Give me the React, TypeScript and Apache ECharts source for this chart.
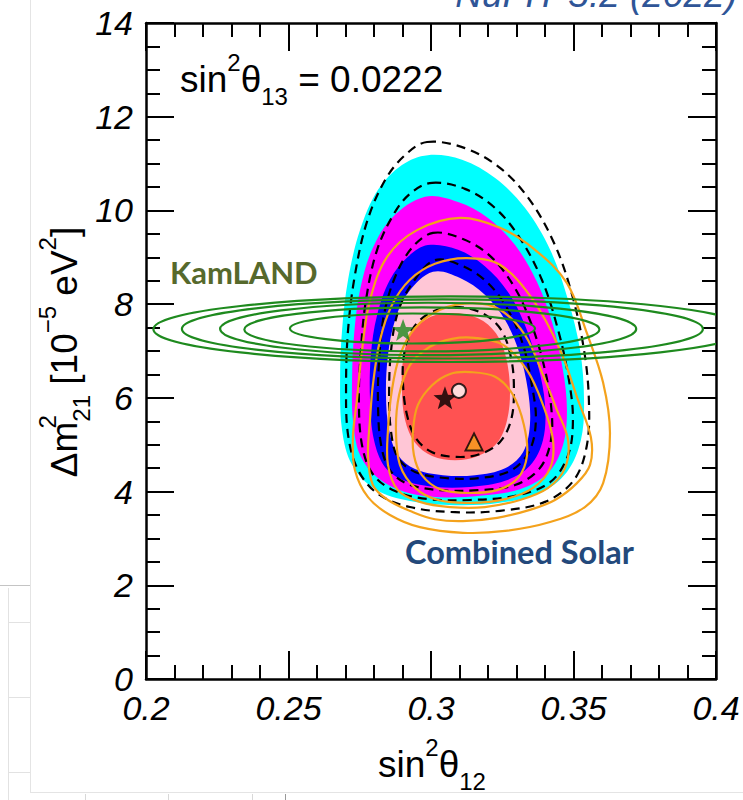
import React, { useEffect, useRef } from "react";
import * as echarts from "echarts";

type Pt = [number, number];

// axis ranges / ticks
const xMin = 0.2;
const xMax = 0.4;
const xInterval = 0.05;
const yMin = 0;
const yMax = 14;
const yInterval = 2;

// Global fit: filled regions (outer to inner)
const cyanRegion: Pt[] = [
  [0.2989, 11.18], [0.3109, 11.08], [0.3225, 10.69], [0.333, 10.05], [0.3418, 9.16],
  [0.3481, 8.09], [0.3523, 7.02], [0.3537, 5.95], [0.3526, 5.1], [0.3477, 4.42],
  [0.3382, 3.97], [0.3242, 3.76], [0.3084, 3.71], [0.2926, 3.8], [0.2804, 4.05],
  [0.2723, 4.57], [0.2688, 5.31], [0.2681, 6.38], [0.2688, 7.45], [0.2709, 8.52],
  [0.2751, 9.58], [0.2814, 10.44], [0.2898, 10.97],
];
const magentaRegion: Pt[] = [
  [0.2979, 10.29], [0.3095, 10.18], [0.32, 9.84], [0.3295, 9.26], [0.3372, 8.47],
  [0.3428, 7.55], [0.3463, 6.59], [0.3477, 5.74], [0.3463, 4.99], [0.3411, 4.4],
  [0.3312, 4.05], [0.3172, 3.91], [0.3032, 3.88], [0.2909, 3.99], [0.2814, 4.29],
  [0.2751, 4.78], [0.2726, 5.53], [0.2723, 6.38], [0.273, 7.34], [0.2751, 8.3],
  [0.2793, 9.16], [0.2863, 9.84],
];
const blueRegion: Pt[] = [
  [0.2989, 9.26], [0.3095, 9.16], [0.3189, 8.81], [0.327, 8.26], [0.333, 7.55],
  [0.3375, 6.7], [0.34, 5.85], [0.3393, 5.1], [0.3347, 4.55], [0.326, 4.23],
  [0.3137, 4.1], [0.3014, 4.1], [0.2909, 4.23], [0.2839, 4.52], [0.28, 5.1],
  [0.2786, 5.95], [0.2789, 6.91], [0.2811, 7.77], [0.2856, 8.52], [0.2919, 9.01],
];
const pinkRegion: Pt[] = [
  [0.3007, 8.69], [0.3102, 8.56], [0.3189, 8.2], [0.326, 7.66], [0.3309, 6.98],
  [0.334, 6.17], [0.3347, 5.42], [0.3323, 4.84], [0.326, 4.5], [0.3154, 4.35],
  [0.3042, 4.35], [0.2944, 4.48], [0.2884, 4.78], [0.2853, 5.31], [0.2842, 6.06],
  [0.2849, 6.91], [0.2874, 7.66], [0.2919, 8.24],
];
const redRegion: Pt[] = [
  [0.3074, 7.81], [0.3165, 7.7], [0.3228, 7.38], [0.3263, 6.87], [0.3277, 6.17],
  [0.3267, 5.53], [0.3232, 5.04], [0.3165, 4.76], [0.3084, 4.67], [0.3004, 4.76],
  [0.2944, 5.04], [0.2909, 5.53], [0.2898, 6.17], [0.2902, 6.81], [0.2926, 7.32],
  [0.2989, 7.7],
];

// Dashed contours (outer to inner)
const dashed1: Pt[] = [
  [0.2986, 11.46], [0.3119, 11.33], [0.3242, 10.91], [0.3347, 10.22], [0.3435, 9.26],
  [0.3495, 8.2], [0.3537, 7.02], [0.3554, 5.95], [0.3547, 4.99], [0.3502, 4.25],
  [0.34, 3.78], [0.3242, 3.59], [0.3084, 3.56], [0.2926, 3.67], [0.2814, 3.95],
  [0.2744, 4.46], [0.2709, 5.21], [0.2702, 6.27], [0.2709, 7.45], [0.2733, 8.62],
  [0.2775, 9.75], [0.2839, 10.65], [0.2909, 11.18],
];
const dashed2: Pt[] = [
  [0.3004, 10.59], [0.3119, 10.46], [0.3225, 10.05], [0.3312, 9.41], [0.3389, 8.52],
  [0.3446, 7.45], [0.3484, 6.38], [0.3498, 5.53], [0.3481, 4.78], [0.3418, 4.2],
  [0.3295, 3.91], [0.3137, 3.82], [0.2989, 3.84], [0.2874, 4.01], [0.2796, 4.37],
  [0.2758, 4.99], [0.2747, 5.95], [0.2754, 7.02], [0.2772, 8.09], [0.2811, 9.16],
  [0.2874, 9.97], [0.2933, 10.39],
];
const dashed3: Pt[] = [
  [0.3007, 9.52], [0.3112, 9.39], [0.3207, 9.03], [0.3288, 8.41], [0.3347, 7.66],
  [0.3393, 6.77], [0.3421, 5.85], [0.3421, 5.1], [0.3382, 4.5], [0.3295, 4.14],
  [0.3165, 4.03], [0.3032, 4.03], [0.2919, 4.16], [0.2856, 4.46], [0.2825, 4.99],
  [0.2814, 5.85], [0.2818, 6.81], [0.2835, 7.77], [0.2874, 8.58], [0.2933, 9.2],
];
const dashed4: Pt[] = [
  [0.3014, 8.94], [0.3112, 8.81], [0.32, 8.45], [0.327, 7.88], [0.3323, 7.13],
  [0.3354, 6.27], [0.3368, 5.53], [0.3347, 4.89], [0.3284, 4.46], [0.3172, 4.29],
  [0.3049, 4.29], [0.2944, 4.42], [0.2884, 4.72], [0.286, 5.27], [0.2853, 6.06],
  [0.286, 7.02], [0.2884, 7.83], [0.2937, 8.47],
];
const dashed5: Pt[] = [
  [0.3084, 7.94], [0.3179, 7.81], [0.3246, 7.45], [0.3281, 6.85], [0.3291, 6.17],
  [0.3281, 5.53], [0.3242, 5.06], [0.3172, 4.8], [0.3088, 4.74], [0.3004, 4.84],
  [0.2947, 5.14], [0.2916, 5.63], [0.2902, 6.27], [0.2905, 6.91], [0.2933, 7.45],
  [0.2996, 7.81],
];

// Combined Solar contours (outer to inner)
const solar5: Pt[] = [
  [0.3102, 9.84], [0.3242, 9.63], [0.3365, 9.16], [0.3477, 8.45], [0.3547, 7.38],
  [0.3604, 6.32], [0.3628, 5.25], [0.3604, 4.18], [0.354, 3.67], [0.3418, 3.35],
  [0.326, 3.16], [0.3112, 3.12], [0.2961, 3.24], [0.2856, 3.5], [0.2779, 3.88],
  [0.2733, 4.46], [0.2726, 5.16], [0.274, 5.95], [0.2758, 7.02], [0.2786, 8.09],
  [0.2846, 9.01], [0.2951, 9.58],
];
const solar4: Pt[] = [
  [0.3126, 8.98], [0.3242, 8.84], [0.3358, 8.09], [0.3453, 7.02], [0.3516, 5.95],
  [0.3561, 5.16], [0.3558, 4.57], [0.3512, 4.18], [0.3435, 3.82], [0.3347, 3.61],
  [0.3232, 3.44], [0.3112, 3.37], [0.3014, 3.41], [0.2937, 3.56], [0.2849, 3.82],
  [0.2796, 4.14], [0.2779, 4.78], [0.2786, 5.53], [0.2796, 6.27], [0.2821, 7.23],
  [0.2863, 7.98], [0.2926, 8.52], [0.3014, 8.86],
];
const solar3: Pt[] = [
  [0.3147, 8.02], [0.3242, 7.88], [0.333, 7.34], [0.3393, 6.49], [0.3442, 5.74],
  [0.3481, 5.1], [0.347, 4.5], [0.3411, 4.08], [0.3312, 3.82], [0.3189, 3.67],
  [0.3067, 3.67], [0.2961, 3.78], [0.2884, 4.03], [0.2849, 4.57], [0.2849, 5.31],
  [0.2863, 6.17], [0.2891, 6.91], [0.2944, 7.49], [0.3032, 7.88],
];
const solar2: Pt[] = [
  [0.3154, 7.28], [0.3253, 7.13], [0.3337, 6.59], [0.3393, 5.85], [0.3428, 5.1],
  [0.3418, 4.5], [0.3358, 4.08], [0.326, 3.84], [0.3137, 3.76], [0.3025, 3.82],
  [0.2944, 4.08], [0.2891, 4.57], [0.2877, 5.31], [0.2888, 6.06], [0.2926, 6.7],
  [0.2996, 7.09], [0.3074, 7.26],
];
const solar1: Pt[] = [
  [0.3137, 6.55], [0.3225, 6.45], [0.3288, 6.06], [0.3326, 5.42], [0.3337, 4.78],
  [0.3305, 4.29], [0.3232, 4.03], [0.313, 3.97], [0.3032, 4.05], [0.2968, 4.35],
  [0.294, 4.78], [0.2937, 5.31], [0.2954, 5.85], [0.3004, 6.27], [0.3067, 6.51],
];

// KamLAND contours: centre and half-widths (inner to outer)
const kamlandCx = [0.2935, 0.2968, 0.299, 0.304, 0.3068];
const kamlandCy = [7.48, 7.46, 7.47, 7.47, 7.465];
const kamlandRx = [0.043, 0.0623, 0.073, 0.0914, 0.1042];
const kamlandRy = [0.32, 0.47, 0.56, 0.63, 0.7];

// best-fit points
const globalBest: Pt = [0.3049, 6.0];
const altBest: Pt = [0.3098, 6.15];
const solarBest: Pt = [0.3151, 5.06];
const kamlandBest: Pt = [0.2902, 7.45];

const STAR =
  "path://M12,0.5 L15,8.6 L23.5,8.9 L16.8,14.2 L19.2,22.5 L12,17.6 L4.8,22.5 L7.2,14.2 L0.5,8.9 L9,8.6 Z";
const SANS = "'Liberation Sans', Arial, Helvetica, sans-serif";
const LATO = "Lato, 'Open Sans', sans-serif";

function polySeries(pts: Pt[], style: any) {
  return {
    type: "custom",
    coordinateSystem: "cartesian2d",
    silent: true,
    clip: true,
    data: pts,
    encode: { x: 0, y: 1 },
    renderItem: (params: any, api: any) => {
      if (params.dataIndex !== 0) return null;
      const points = pts.map((p) => api.coord(p));
      return {
        type: "polygon",
        shape: { points, smooth: 0.35 },
        style,
      };
    },
  };
}

const fill = (c: string) => ({ fill: c, stroke: null, lineWidth: 0 });
const dashStyle = { fill: "none", stroke: "#000", lineWidth: 2.2, lineDash: [9, 6] };
const orangeStyle = { fill: "none", stroke: "#f4a21c", lineWidth: 2.2 };

const axisBase = (pos: string, showLabel: boolean, isX: boolean) => ({
  type: "value",
  position: pos,
  min: isX ? xMin : yMin,
  max: isX ? xMax : yMax,
  interval: isX ? xInterval : yInterval,
  axisLine: { show: true, onZero: false, lineStyle: { color: "#000", width: 2.5 } },
  axisTick: { show: true, inside: true, length: 28, lineStyle: { color: "#000", width: 2 } },
  minorTick: {
    show: true,
    splitNumber: isX ? 5 : 4,
    length: 14,
    lineStyle: { color: "#000", width: 2 },
  },
  splitLine: { show: false },
  minorSplitLine: { show: false },
  axisLabel: {
    show: showLabel,
    color: "#000",
    fontFamily: SANS,
    fontStyle: "italic",
    fontSize: 34,
    margin: isX ? 12 : 13,
  },
});

export default function App() {
  const ref = useRef<HTMLDivElement>(null);
  useEffect(() => {
    if (!ref.current) return;
    const chart = echarts.init(ref.current, undefined, { renderer: "svg" });
    const supStyle = { fontSize: 24, fontFamily: SANS, lineHeight: 22, verticalAlign: "top", fill: "#000" };
    const subStyle = { fontSize: 24, fontFamily: SANS, lineHeight: 22, verticalAlign: "bottom", fill: "#000" };
    const mainStyle = { fontSize: 37, fontFamily: SANS, lineHeight: 58, verticalAlign: "middle", fill: "#000" };

    const option: any = {
      animation: false,
      backgroundColor: "#fff",
      grid: { left: 146, top: 23, right: 27, bottom: 121, containLabel: false },
      xAxis: [axisBase("bottom", true, true), axisBase("top", false, true)],
      yAxis: [axisBase("left", true, false), axisBase("right", false, false)],
      series: [
        polySeries(cyanRegion, fill("#00ffff")),
        polySeries(magentaRegion, fill("#ff00ff")),
        polySeries(blueRegion, fill("#0000ff")),
        polySeries(pinkRegion, fill("#ffc6d6")),
        polySeries(redRegion, fill("#ff5252")),
        polySeries(dashed1, dashStyle),
        polySeries(dashed2, dashStyle),
        polySeries(dashed3, dashStyle),
        polySeries(dashed4, dashStyle),
        polySeries(dashed5, dashStyle),
        polySeries(solar5, orangeStyle),
        polySeries(solar4, orangeStyle),
        polySeries(solar3, orangeStyle),
        polySeries(solar2, orangeStyle),
        polySeries(solar1, orangeStyle),
        {
          type: "custom",
          coordinateSystem: "cartesian2d",
          silent: true,
          clip: true,
          data: kamlandCx.map((cx, i) => [cx, kamlandCy[i], kamlandRx[i], kamlandRy[i]]),
          encode: { x: 0, y: 1 },
          renderItem: (params: any, api: any) => {
            const c = api.coord([api.value(0), api.value(1)]);
            const s = api.size([api.value(2), api.value(3)]);
            return {
              type: "ellipse",
              shape: { cx: c[0], cy: c[1], rx: s[0], ry: s[1] },
              style: { fill: "none", stroke: "#1e8a1e", lineWidth: 2.2 },
            };
          },
        },
        {
          type: "scatter",
          silent: true,
          data: [kamlandBest],
          symbol: STAR,
          symbolSize: 22,
          itemStyle: { color: "#1e8a1e" },
        },
        {
          type: "scatter",
          silent: true,
          data: [globalBest],
          symbol: STAR,
          symbolSize: 23,
          itemStyle: { color: "#000" },
        },
        {
          type: "scatter",
          silent: true,
          data: [altBest],
          symbol: "circle",
          symbolSize: 14,
          itemStyle: { color: "#fff", borderColor: "#000", borderWidth: 2 },
        },
        {
          type: "scatter",
          silent: true,
          data: [solarBest],
          symbol: "triangle",
          symbolSize: 17,
          itemStyle: { color: "#f4a21c", borderColor: "#000", borderWidth: 2 },
        },
      ],
      graphic: [
        // background remnants of the slide
        { type: "line", silent: true, shape: { x1: 30.5, y1: 0, x2: 30.5, y2: 792 }, style: { stroke: "#e4e4e4", lineWidth: 1 } },
        { type: "line", silent: true, shape: { x1: 30, y1: 792.5, x2: 743, y2: 792.5 }, style: { stroke: "#e4e4e4", lineWidth: 1 } },
        { type: "line", silent: true, shape: { x1: 0, y1: 585.5, x2: 30, y2: 585.5 }, style: { stroke: "#c4c4c4", lineWidth: 1 } },
        { type: "line", silent: true, shape: { x1: 8.5, y1: 588, x2: 8.5, y2: 800 }, style: { stroke: "#e2e2e2", lineWidth: 1 } },
        { type: "line", silent: true, shape: { x1: 8, y1: 622.5, x2: 30, y2: 622.5 }, style: { stroke: "#e2e2e2", lineWidth: 1 } },
        { type: "line", silent: true, shape: { x1: 8, y1: 697.5, x2: 30, y2: 697.5 }, style: { stroke: "#e2e2e2", lineWidth: 1 } },
        { type: "line", silent: true, shape: { x1: 8, y1: 772.5, x2: 30, y2: 772.5 }, style: { stroke: "#e2e2e2", lineWidth: 1 } },
        { type: "line", silent: true, shape: { x1: 85.5, y1: 794, x2: 85.5, y2: 800 }, style: { stroke: "#d8d8d8", lineWidth: 1 } },
        { type: "line", silent: true, shape: { x1: 168.5, y1: 794, x2: 168.5, y2: 800 }, style: { stroke: "#d8d8d8", lineWidth: 1 } },
        { type: "line", silent: true, shape: { x1: 252.5, y1: 794, x2: 252.5, y2: 800 }, style: { stroke: "#d8d8d8", lineWidth: 1 } },
        { type: "line", silent: true, shape: { x1: 285.5, y1: 794, x2: 285.5, y2: 800 }, style: { stroke: "#999", lineWidth: 1 } },
        // title (cut off at the top)
        {
          type: "text",
          x: 737,
          y: -6,
          z: 10,
          style: {
            text: "NuFIT 5.2 (2022)",
            fontFamily: SANS,
            fontStyle: "italic",
            fontSize: 37,
            fill: "#2f5597",
            align: "right",
            textAlign: "right",
            verticalAlign: "middle",
            textVerticalAlign: "middle",
          },
        },
        // sin^2 theta13 annotation
        {
          type: "text",
          x: 180,
          y: 50,
          z: 10,
          style: {
            text: "{m|sin}{sp|2}{m|θ}{sb|13}{m| = 0.0222}",
            rich: { m: mainStyle, sp: supStyle, sb: subStyle },
            align: "left",
            textAlign: "left",
            verticalAlign: "top",
            textVerticalAlign: "top",
          },
        },
        // x-axis title
        {
          type: "text",
          x: 432,
          y: 735,
          z: 10,
          style: {
            text: "{m|sin}{sp|2}{m|θ}{sb|12}",
            rich: { m: mainStyle, sp: supStyle, sb: subStyle },
            align: "center",
            textAlign: "center",
            verticalAlign: "top",
            textVerticalAlign: "top",
          },
        },
        // y-axis title
        {
          type: "text",
          x: 64,
          y: 352,
          rotation: Math.PI / 2,
          z: 10,
          style: {
            text: "{m|Δm}{sp0|2}{sb|21}{m| [10}{sp|−5}{m| eV}{sp|2}{m|]}",
            rich: {
              m: mainStyle,
              sp: supStyle,
              sp0: { ...supStyle, width: 0 },
              sb: subStyle,
            },
            align: "center",
            textAlign: "center",
            verticalAlign: "middle",
            textVerticalAlign: "middle",
          },
        },
        {
          type: "text",
          x: 170,
          y: 272,
          z: 10,
          style: {
            text: "KamLAND",
            fontFamily: LATO,
            fontWeight: "bold",
            fontSize: 31,
            fill: "#56692c",
            align: "left",
            textAlign: "left",
            verticalAlign: "middle",
            textVerticalAlign: "middle",
          },
        },
        {
          type: "text",
          x: 405,
          y: 551,
          z: 10,
          style: {
            text: "Combined Solar",
            fontFamily: LATO,
            fontWeight: "bold",
            fontSize: 32.5,
            fill: "#23497b",
            align: "left",
            textAlign: "left",
            verticalAlign: "middle",
            textVerticalAlign: "middle",
          },
        },
      ],
    };
    chart.setOption(option);
    return () => chart.dispose();
  }, []);
  return (
    <div
      ref={ref}
      style={{ position: "fixed", left: 0, top: 0, width: 743, height: 800, background: "#fff" }}
    />
  );
}
